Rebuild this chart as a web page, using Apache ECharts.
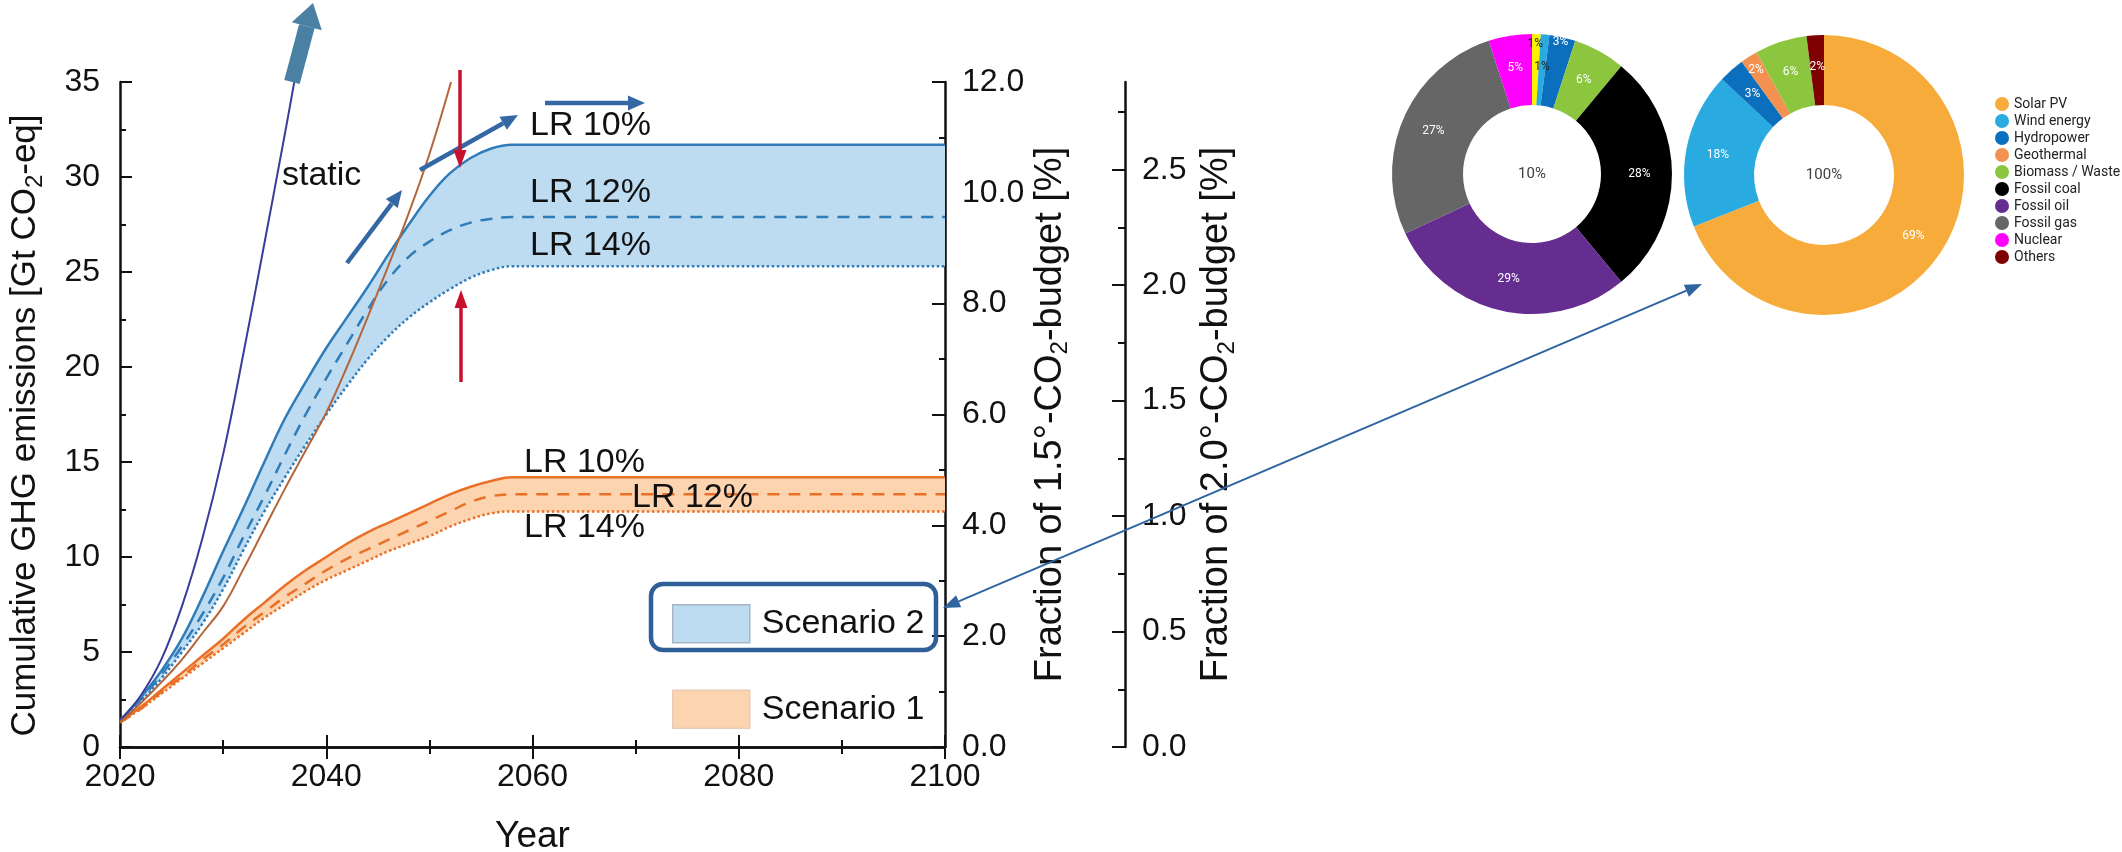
<!DOCTYPE html>
<html>
<head>
<meta charset="utf-8">
<title>Cumulative GHG emissions and electricity mix</title>
<script src="https://cdn.jsdelivr.net/npm/echarts@6.0.0/dist/echarts.min.js"></script>
<style>
html, body { margin: 0; padding: 0; background: #fff; }
#main { width: 2122px; height: 852px; }
</style>
</head>
<body>
<div id="main"></div>
<script>
// years of the learning rate bands
var bandYears = [2020, 2022, 2024, 2026, 2028, 2030, 2032, 2034, 2036, 2038, 2040,
                 2042, 2044, 2046, 2048, 2050, 2052, 2054, 2056, 2058, 2060, 2100];
// scenario 2 (blue), Gt CO2-eq
var s2lr10 = [1.4, 2.6, 4.0, 5.7, 7.9, 10.3, 12.6, 15.0, 17.3, 19.2, 21.0, 22.6, 24.2, 25.9, 27.5, 29.0, 30.2, 31.0, 31.5, 31.7, 31.7, 31.7];
var s2lr12 = [1.4, 2.5, 3.8, 5.3, 7.0, 8.9, 11.1, 13.2, 15.4, 17.5, 19.4, 21.2, 23.0, 24.6, 25.8, 26.6, 27.2, 27.6, 27.8, 27.9, 27.9, 27.9];
var s2lr14 = [1.4, 2.4, 3.6, 5.0, 6.5, 8.3, 10.4, 12.4, 14.2, 15.9, 17.5, 19.0, 20.4, 21.6, 22.6, 23.4, 24.1, 24.7, 25.1, 25.3, 25.3, 25.3];
// scenario 1 (orange)
var s1lr10 = [1.3, 2.1, 3.0, 3.9, 4.8, 5.7, 6.7, 7.6, 8.5, 9.3, 10.0, 10.7, 11.3, 11.8, 12.3, 12.8, 13.3, 13.7, 14.0, 14.2, 14.2, 14.2];
var s1lr12 = [1.3, 2.0, 2.9, 3.7, 4.6, 5.4, 6.3, 7.1, 7.9, 8.6, 9.3, 9.9, 10.4, 10.9, 11.4, 11.9, 12.4, 12.9, 13.2, 13.3, 13.3, 13.3];
var s1lr14 = [1.3, 2.0, 2.8, 3.6, 4.4, 5.2, 6.0, 6.8, 7.5, 8.2, 8.8, 9.3, 9.8, 10.3, 10.7, 11.1, 11.6, 12.0, 12.3, 12.4, 12.4, 12.4];
// static cases
var staticYears = [2020, 2022, 2024, 2026, 2028, 2030, 2032, 2034, 2036, 2036.9];
var staticVals = [1.4, 2.7, 4.6, 7.4, 11.0, 15.4, 20.8, 26.5, 32.3, 35.0];
var static1Years = [2020, 2022, 2024, 2026, 2028, 2030, 2032, 2034, 2036, 2038, 2040, 2042, 2044, 2046, 2048, 2050, 2052.1];
var static1Vals = [1.3, 2.3, 3.4, 4.6, 6.0, 7.4, 9.4, 11.5, 13.6, 15.6, 17.6, 20.0, 22.6, 25.3, 28.1, 31.2, 35.0];

// electricity mix donuts, %
var sources = ['Solar PV', 'Wind energy', 'Hydropower', 'Geothermal', 'Biomass / Waste',
               'Fossil coal', 'Fossil oil', 'Fossil gas', 'Nuclear', 'Others'];
var mixToday = [1, 1, 3, 0, 6, 28, 29, 27, 5, 0];
var mixFuture = [69, 18, 3, 2, 6, 0, 0, 0, 0, 2];
var centerText = ['10%', '100%'];

// tick labels of the 2.0 degree axis
var budget2Ticks = [0, 0.5, 1.0, 1.5, 2.0, 2.5];
var budget2Minor = [0.25, 0.75, 1.25, 1.75, 2.25, 2.75];

var sourceColors = ['#f7ab3b', '#29abe2', '#0b6fbd', '#f29150', '#8cc63f',
                    '#000000', '#662d91', '#666666', '#ff00ff', '#7f0000'];
var solarTodayColor = '#fff200';
var font = 'Liberation Sans, Arial, sans-serif';
var ink = '#111';

function pairs(xs, ys) {
    var out = [];
    for (var i = 0; i < xs.length; i++) out.push([xs[i], ys[i]]);
    return out;
}
function diff(a, b) {
    var out = [];
    for (var i = 0; i < a.length; i++) out.push(+(a[i] - b[i]).toFixed(2));
    return out;
}
function pieData(values, today) {
    var out = [];
    for (var i = 0; i < sources.length; i++) {
        if (!values[i]) continue;
        var item = { name: sources[i], value: values[i], itemStyle: { color: sourceColors[i] } };
        if (today && i === 0) item.itemStyle.color = solarTodayColor;
        if (today && i < 2) item.label = { color: '#222' };
        out.push(item);
    }
    return out;
}

// arrow: shaft + head
function arrow(x1, y1, x2, y2, color, w, hl, hw, both) {
    var els = [];
    var a = Math.atan2(y2 - y1, x2 - x1);
    var c = Math.cos(a), s = Math.sin(a);
    var sx = x1, sy = y1;
    var ex = x2 - hl * c, ey = y2 - hl * s;
    if (both) { sx = x1 + hl * c; sy = y1 + hl * s; }
    els.push({ type: 'line', z: 100, shape: { x1: sx, y1: sy, x2: ex, y2: ey }, style: { stroke: color, lineWidth: w } });
    var px = -s * hw / 2, py = c * hw / 2;
    els.push({ type: 'polygon', z: 100, shape: { points: [[x2, y2], [ex + px, ey + py], [ex - px, ey - py]] }, style: { fill: color } });
    if (both) {
        els.push({ type: 'polygon', z: 100, shape: { points: [[x1, y1], [sx + px, sy + py], [sx - px, sy - py]] }, style: { fill: color } });
    }
    return els;
}

var labels = [
    { text: 'static', x: 282, y: 176 },
    { text: 'LR 10%', x: 530, y: 126 },
    { text: 'LR 12%', x: 530, y: 193 },
    { text: 'LR 14%', x: 530, y: 246 },
    { text: 'LR 10%', x: 524, y: 463 },
    { text: 'LR 12%', x: 632, y: 498 },
    { text: 'LR 14%', x: 524, y: 528 }
];

var graphics = [];
labels.forEach(function (l) {
    graphics.push({ type: 'text', z: 100, x: l.x, y: l.y,
        style: { text: l.text, fill: ink, font: '34px ' + font, textVerticalAlign: 'middle' } });
});
graphics = graphics
    .concat(arrow(292, 82, 313, 3, '#4a80a4', 16, 24, 31))
    .concat(arrow(347, 263, 402, 190, '#3468a5', 4.5, 17, 15))
    .concat(arrow(420, 170, 518, 115, '#3468a5', 4.5, 17, 15))
    .concat(arrow(545, 103, 645, 103, '#3468a5', 4.5, 17, 15))
    .concat(arrow(460, 70, 460, 168, '#c8102e', 3.5, 18, 13))
    .concat(arrow(461, 382, 461, 290, '#c8102e', 3.5, 18, 13))
    .concat(arrow(943, 608, 1702, 284, '#2e64a0', 2, 17, 13, true));
graphics.push({ type: 'rect', z: 100, shape: { x: 651, y: 584, width: 285, height: 66, r: 12 },
    style: { fill: 'none', stroke: '#2f5f96', lineWidth: 4.5 } });
[[1532, 174], [1824, 175]].forEach(function (c, i) {
    graphics.push({ type: 'text', z: 100, x: c[0], y: c[1],
        style: { text: centerText[i], fill: '#404040', font: '15px Roboto, sans-serif', textAlign: 'center', textVerticalAlign: 'middle' } });
});

var tickFont = { fontSize: 32, color: ink, fontFamily: font };
var subStyle = { fontSize: 24, lineHeight: 24, verticalAlign: 'bottom', color: ink, fontFamily: font };
function nameStyle(size) {
    return { fontSize: size, lineHeight: 44, color: ink, fontFamily: font, rich: { sub: subStyle } };
}
var lineAxis = { show: true, lineStyle: { color: ink, width: 2.5 } };

function xAxisOf(pos, showLabel) {
    return {
        type: 'value', position: pos, min: 2020, max: 2100, interval: 20,
        axisLine: lineAxis,
        axisTick: { inside: true, length: 12, lineStyle: { color: ink, width: 2 } },
        minorTick: { show: true, splitNumber: 2, length: 7, lineStyle: { color: ink, width: 2 } },
        splitLine: { show: false },
        axisLabel: showLabel ? Object.assign({ margin: 14, formatter: function (v) { return String(v); } }, tickFont) : { show: false },
        name: showLabel ? 'Year' : '', nameLocation: 'middle', nameGap: 71,
        nameTextStyle: { fontSize: 37, color: ink, fontFamily: font }
    };
}

function lineSeries(name, years, vals, color, type, z) {
    return {
        name: name, type: 'line', data: pairs(years, vals), symbol: 'none',
        smooth: 0.4, z: z || 3, silent: true,
        lineStyle: { color: color, width: 2.5, type: type || 'solid' }
    };
}
// stacked pair: invisible lower edge + filled difference; value first so the stack runs on y
function bandSeries(name, lo, hi, fill, stack) {
    return [
        { name: name + ' base', type: 'line', stack: stack, data: pairs(lo, bandYears), encode: { x: 1, y: 0 },
          symbol: 'none', smooth: 0.4, silent: true, z: 1, lineStyle: { width: 0, opacity: 0 } },
        { name: name, type: 'line', stack: stack, data: pairs(diff(hi, lo), bandYears), encode: { x: 1, y: 0 },
          symbol: 'none', smooth: 0.4, silent: true, z: 1, lineStyle: { width: 0, opacity: 0 },
          itemStyle: { color: fill }, areaStyle: { color: fill, opacity: 1 } }
    ];
}

var blue = '#2f7cb9', orange = '#ea6f27';
var series = []
    .concat(bandSeries('Scenario 2', s2lr14, s2lr10, '#bddcf1', 'b2'))
    .concat(bandSeries('Scenario 1', s1lr14, s1lr10, '#fdd4b0', 'b1'))
    .concat([
        lineSeries('S2 LR 10%', bandYears, s2lr10, blue, 'solid', 2),
        lineSeries('S2 LR 12%', bandYears, s2lr12, blue, [12, 9], 2),
        lineSeries('S2 LR 14%', bandYears, s2lr14, blue, 'dotted', 2),
        lineSeries('S1 LR 10%', bandYears, s1lr10, orange, 'solid', 2),
        lineSeries('S1 LR 12%', bandYears, s1lr12, orange, [12, 9], 2),
        lineSeries('S1 LR 14%', bandYears, s1lr14, orange, 'dotted', 2),
        lineSeries('static', staticYears, staticVals, '#3b3b9c', 'solid', 3),
        lineSeries('static S1', static1Years, static1Vals, '#b4653a', 'solid', 3)
    ]);
series[series.length - 1].lineStyle.width = 2;
series[series.length - 2].lineStyle.width = 2;

var pieLabel = { show: true, position: 'inside', formatter: '{c}%', color: '#fff', fontSize: 12, fontFamily: 'Roboto, sans-serif' };
series.push({
    name: 'future mix', type: 'pie', center: [1824, 175], radius: [70, 140],
    data: pieData(mixFuture, false), label: pieLabel, labelLine: { show: false },
    avoidLabelOverlap: false, silent: true, emphasis: { disabled: true },
    labelLayout: function (p) { return p.dataIndex === 3 ? { dx: -10, dy: -14 } : {}; }
});
series.push({
    name: 'today mix', type: 'pie', center: [1532, 174], radius: [69, 140],
    data: pieData(mixToday, true), label: pieLabel, labelLine: { show: false },
    avoidLabelOverlap: false, silent: true, emphasis: { disabled: true },
    labelLayout: function (p) {
        if (p.dataIndex === 0) return { dy: -23 };
        if (p.dataIndex === 2) return { dx: 5, dy: -27 };
        return {};
    }
});

var option = {
    backgroundColor: '#fff',
    animation: false,
    grid: { left: 120, right: 1177, top: 82, bottom: 105, outerBoundsMode: 'none' },
    xAxis: [xAxisOf('bottom', true), xAxisOf('top', false)],
    yAxis: [
        {
            type: 'value', position: 'left', min: 0, max: 35, interval: 5,
            axisLine: lineAxis,
            axisTick: { inside: true, length: 12, lineStyle: { color: ink, width: 2 } },
            minorTick: { show: true, splitNumber: 2, length: 6, lineStyle: { color: ink, width: 2 } },
            splitLine: { show: false },
            axisLabel: Object.assign({ margin: 20 }, tickFont),
            name: 'Cumulative GHG emissions [Gt CO{sub|2}-eq]', nameLocation: 'middle', nameGap: 73,
            nameTextStyle: Object.assign(nameStyle(35), { padding: [0, 22, 0, 0] })
        },
        {
            type: 'value', position: 'right', min: 0, max: 12, interval: 2,
            axisLine: lineAxis,
            axisTick: { inside: true, length: 13, lineStyle: { color: ink, width: 2 } },
            minorTick: { show: true, splitNumber: 2, length: 6, lineStyle: { color: ink, width: 2 } },
            splitLine: { show: false },
            axisLabel: Object.assign({ margin: 17, formatter: function (v) { return v.toFixed(1); } }, tickFont),
            name: 'Fraction of 1.5°-CO{sub|2}-budget [%]', nameLocation: 'middle', nameGap: 83, nameRotate: 90,
            nameTextStyle: nameStyle(38)
        },
        {
            type: 'value', position: 'right', offset: 180, min: 0, max: 2.88,
            axisLine: lineAxis,
            axisTick: { inside: true, length: 13, customValues: budget2Ticks, lineStyle: { color: ink, width: 2 } },
            splitLine: { show: false },
            axisLabel: Object.assign({ margin: 17, customValues: budget2Ticks, formatter: function (v) { return v.toFixed(1); } }, tickFont),
            name: 'Fraction of 2.0°-CO{sub|2}-budget [%]', nameLocation: 'middle', nameGap: 70, nameRotate: 90,
            nameTextStyle: nameStyle(38)
        },
        {
            type: 'value', position: 'right', offset: 180, min: 0, max: 2.88,
            axisLine: { show: false },
            axisTick: { inside: true, length: 7, customValues: budget2Minor, lineStyle: { color: ink, width: 2 } },
            splitLine: { show: false },
            axisLabel: { show: false }
        }
    ],
    legend: [
        {
            data: sources, orient: 'vertical', left: 1990, top: 92,
            icon: 'circle', itemWidth: 14, itemHeight: 14, itemGap: 3, selectedMode: false,
            textStyle: { fontSize: 14, color: '#222', fontFamily: 'Roboto, sans-serif' }
        },
        {
            data: [
                { name: 'Scenario 2', itemStyle: { color: '#bddcf1', borderColor: '#a6b6c4', borderWidth: 1.5 } },
                { name: 'Scenario 1', itemStyle: { color: '#fdd4b0', borderColor: '#e8cbb4', borderWidth: 1.5 } }
            ],
            orient: 'vertical', left: 667, top: 599, icon: 'rect',
            itemWidth: 77, itemHeight: 38, itemGap: 46, selectedMode: false,
            textStyle: { fontSize: 34, color: ink, fontFamily: font, padding: [0, 0, 0, 7] }
        }
    ],
    series: series,
    graphic: { elements: graphics }
};

var myChart = echarts.init(document.getElementById('main'));
myChart.setOption(option);
</script>
</body>
</html>
